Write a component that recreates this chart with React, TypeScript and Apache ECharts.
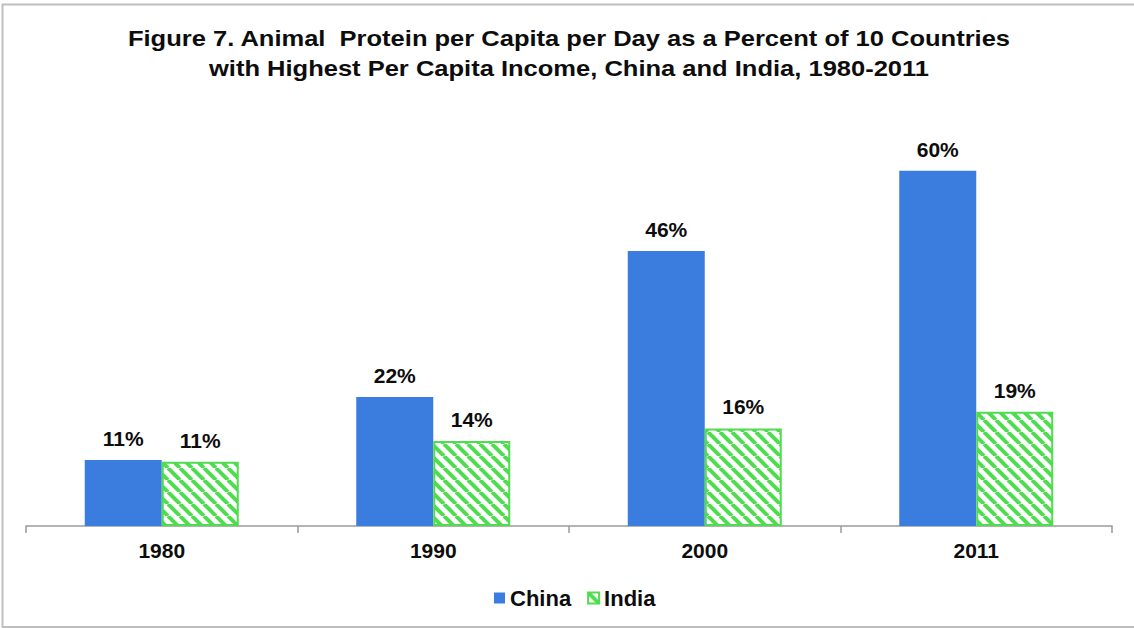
import React, { useEffect, useRef } from "react";
import * as echarts from "echarts";

const categories = ["1980", "1990", "2000", "2011"];
const chinaValues = [11.1, 21.7, 46.2, 59.7];
const indiaValues = [10.8, 14.3, 16.4, 19.2];
const seriesNames = ["China", "India"];
const titleLines = [
  "Figure 7. Animal  Protein per Capita per Day as a Percent of 10 Countries",
  "with Highest Per Capita Income, China and India, 1980-2011",
];

function makeHatch(): HTMLCanvasElement {
  const c = document.createElement("canvas");
  const s = 12;
  c.width = s;
  c.height = s;
  const ctx = c.getContext("2d")!;
  ctx.fillStyle = "#ffffff";
  ctx.fillRect(0, 0, s, s);
  ctx.strokeStyle = "#4fdc4f";
  ctx.lineWidth = 4;
  for (const o of [-s, 0, s]) {
    ctx.beginPath();
    ctx.moveTo(o, 0);
    ctx.lineTo(o + s, s);
    ctx.stroke();
  }
  return c;
}

export default function App() {
  const ref = useRef<HTMLDivElement>(null);
  useEffect(() => {
    if (!ref.current) return;
    const chart = echarts.init(ref.current, undefined, { renderer: "svg" });
    const hatch = makeHatch();
    const font = "'Liberation Sans', Arial, sans-serif";
    const labelCfg = {
      show: true,
      position: "top" as const,
      distance: 11,
      fontFamily: font,
      fontWeight: "bold" as const,
      fontSize: 21,
      color: "#0d0d0d",
      formatter: (p: any) => Math.round(p.value) + "%",
    };
    chart.setOption({
      animation: false,
      backgroundColor: "#ffffff",
      graphic: [
        {
          type: "rect",
          shape: { x: 2.5, y: 4.5, width: 1300, height: 622.5 },
          style: { fill: "none", stroke: "#bfbfbf", lineWidth: 2 },
          silent: true,
        },
        ...titleLines.map((t, i) => ({
          type: "text",
          x: 569,
          y: 38 + i * 30,
          scaleX: 1.16,
          silent: true,
          style: {
            text: t,
            fontFamily: font,
            fontWeight: "bold",
            fontSize: 22,
            fill: "#0d0d0d",
            textAlign: "center",
            textVerticalAlign: "middle",
          },
        })),
      ],
      legend: {
        top: 582,
        left: 489,
        itemWidth: 11,
        itemHeight: 11,
        itemGap: 16,
        icon: "rect",
        textStyle: {
          fontFamily: font,
          fontWeight: "bold",
          fontSize: 22,
          color: "#0d0d0d",
        },
        data: seriesNames,
      },
      grid: { left: 26, right: 22, top: 109.5, bottom: 102 },
      xAxis: {
        type: "category",
        data: categories,
        axisLine: { lineStyle: { color: "#9a9a9a", width: 1.5 } },
        axisTick: { show: true, length: 7, lineStyle: { color: "#9a9a9a", width: 1.5 } },
        axisLabel: {
          margin: 14,
          fontFamily: font,
          fontWeight: "bold",
          fontSize: 21,
          color: "#0d0d0d",
        },
      },
      yAxis: {
        type: "value",
        min: 0,
        max: 70,
        show: false,
        splitLine: { show: false },
      },
      series: [
        {
          name: seriesNames[0],
          type: "bar",
          data: chinaValues,
          barWidth: 77,
          barGap: "0%",
          itemStyle: { color: "#3a7ddf" },
          label: labelCfg,
        },
        {
          name: seriesNames[1],
          type: "bar",
          data: indiaValues,
          barWidth: 77,
          barGap: "0%",
          itemStyle: {
            color: { image: hatch, repeat: "repeat" },
            borderColor: "#4fdc4f",
            borderWidth: 2,
          },
          label: labelCfg,
        },
      ],
    });
    return () => chart.dispose();
  }, []);
  return (
    <div
      ref={ref}
      style={{ position: "fixed", left: 0, top: 0, width: 1134, height: 628 }}
    />
  );
}
